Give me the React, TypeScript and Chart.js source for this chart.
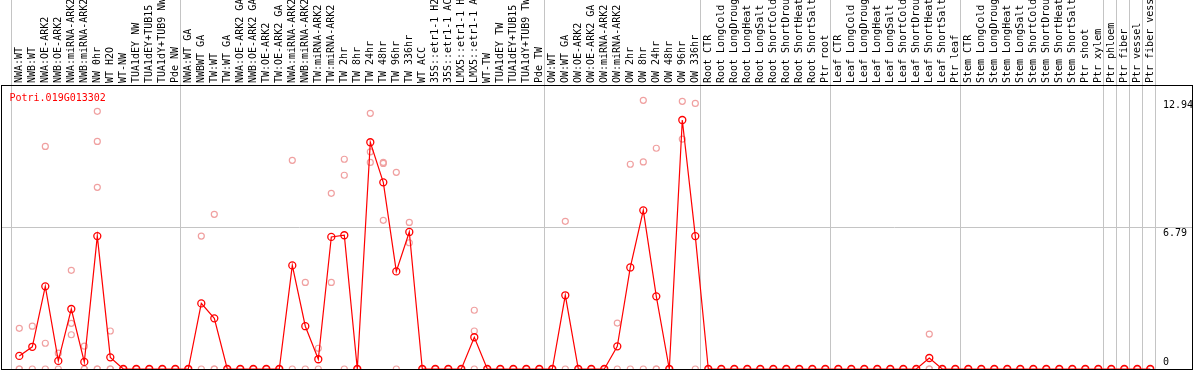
import { useEffect, useRef } from 'react';
import { Chart, registerables } from 'chart.js';

Chart.register(...registerables);

const geneName = 'Potri.019G013302';

const categories = [
  'NWA:WT', 'NWB:WT', 'NWA:OE-ARK2', 'NWB:OE-ARK2', 'NWA:miRNA-ARK2', 'NWB:miRNA-ARK2', 'NW 0hr', 'WT H2O', 'WT-NW',
  'TUA1dEY NW', 'TUA1dEY+TUB15 NW', 'TUA1dY+TUB9 NW', 'Pde NW',
  'NWA:WT GA', 'NWBWT GA', 'TW:WT', 'TW:WT GA', 'NWA:OE-ARK2 GA', 'NWB:OE-ARK2 GA', 'TW:OE-ARK2', 'TW:OE-ARK2 GA',
  'NWA:miRNA-ARK2 GA', 'NWB:miRNA-ARK2 GA', 'TW:miRNA-ARK2', 'TW:miRNA-ARK2 GA',
  'TW 2hr', 'TW 8hr', 'TW 24hr', 'TW 48hr', 'TW 96hr', 'TW 336hr', 'WT ACC',
  '35S::etr1-1 H2O', '35S::etr1-1 ACC', 'LMX5::etr1-1 H2O', 'LMX5::etr1-1 ACC', 'WT-TW',
  'TUA1dEY TW', 'TUA1dEY+TUB15 TW', 'TUA1dY+TUB9 TW', 'Pde TW',
  'OW:WT', 'OW:WT GA', 'OW:OE-ARK2', 'OW:OE-ARK2 GA', 'OW:miRNA-ARK2', 'OW:miRNA-ARK2 GA',
  'OW 2hr', 'OW 8hr', 'OW 24hr', 'OW 48hr', 'OW 96hr', 'OW 336hr',
  'Root CTR', 'Root LongCold', 'Root LongDrought', 'Root LongHeat', 'Root LongSalt',
  'Root ShortCold', 'Root ShortDrought', 'Root ShortHeat', 'Root ShortSalt', 'Ptr root',
  'Leaf CTR', 'Leaf LongCold', 'Leaf LongDrought', 'Leaf LongHeat', 'Leaf LongSalt',
  'Leaf ShortCold', 'Leaf ShortDrought', 'Leaf ShortHeat', 'Leaf ShortSalt', 'Ptr leaf',
  'Stem CTR', 'Stem LongCold', 'Stem LongDrought', 'Stem LongHeat', 'Stem LongSalt',
  'Stem ShortCold', 'Stem ShortDrought', 'Stem ShortHeat', 'Stem ShortSalt', 'Ptr shoot', 'Ptr xylem',
  'Ptr phloem', 'Ptr fiber', 'Ptr vessel', 'Ptr fiber vessel',
];

const meanValues = [
  0.63, 1.07, 3.98, 0.39, 2.89, 0.34, 6.40, 0.56, 0, 0, 0, 0, 0,
  0, 3.16, 2.44, 0, 0, 0, 0, 0, 4.99, 2.06, 0.47, 6.36, 6.44, 0, 10.92, 8.99, 4.70, 6.60,
  0, 0, 0, 0, 1.53, 0, 0, 0, 0, 0,
  0, 3.55, 0, 0, 0, 1.09, 4.89, 7.64, 3.50, 0, 11.99, 6.40,
  0, 0, 0, 0, 0, 0, 0, 0, 0, 0,
  0, 0, 0, 0, 0, 0, 0, 0.53, 0, 0,
  0, 0, 0, 0, 0, 0, 0, 0, 0, 0, 0,
  0, 0, 0, 0,
];

const replicateValues: number[][] = [
  [1.96, 0, 0], [2.06, 0], [10.72, 1.24, 0], [0.76, 0], [4.75, 2.20, 1.65], [1.10, 0, 0],
  [12.41, 10.96, 8.75, 0, 0], [1.83, 0, 0], [0, 0], [0, 0], [0, 0], [0, 0], [0, 0],
  [0, 0], [6.40, 0], [7.45, 0, 0], [0, 0], [0, 0], [0, 0], [0, 0], [0, 0],
  [10.05, 0], [4.17, 0], [1.00, 0], [8.46, 4.17], [10.10, 9.33, 0], [0, 0],
  [12.31, 10.46, 9.95], [9.95, 9.90, 7.16], [9.47, 0], [7.06, 6.08],
  [0, 0], [0, 0], [0, 0], [0, 0], [2.83, 1.83, 0], [0, 0], [0, 0], [0, 0], [0, 0], [0, 0],
  [0, 0], [7.11, 0], [0, 0], [0, 0], [0, 0], [2.21, 0], [9.86, 0], [12.94, 9.97, 0],
  [10.63, 0, 0], [0, 0], [12.89, 11.07], [12.79, 0],
  [0, 0], [0, 0], [0, 0], [0, 0], [0, 0], [0, 0], [0, 0], [0, 0], [0, 0], [0, 0],
  [0, 0], [0, 0], [0, 0], [0, 0], [0, 0], [0, 0], [0, 0], [1.68, 0, 0], [0, 0], [0, 0],
  [0, 0], [0, 0], [0, 0], [0, 0], [0, 0], [0, 0], [0, 0], [0, 0], [0, 0], [0, 0], [0, 0],
  [0, 0], [0, 0], [0, 0], [0, 0],
];

const yTickValues = [0, 6.79, 12.94];
const yTickLabels = ['0', '6.79', '12.94'];
const yGridShown = [false, true, false];

// index where each sample group starts (last entry = end)
const groupStarts = [0, 13, 41, 53, 63, 73, 84, 85, 86, 87, 88];

const FONT = 'DejaVu Sans Mono';
const RED = '#ff0000';
const PINK = '#f0a0a0';
const GRID = '#c4c4c4';
const CLEAR = 'rgba(0,0,0,0)';
const X_MIN = -1.408;
const X_MAX = 90.208;
const Y_MAX = 13.676;
const SEP_OFFSET = -8 / 13;

const noPad = (scale: any) => {
  scale.paddingLeft = 0;
  scale.paddingRight = 0;
  scale.paddingTop = 0;
  scale.paddingBottom = 0;
};

const titlePlugin = {
  id: 'geneTitle',
  afterDraw(chart: any) {
    const { ctx, chartArea } = chart;
    ctx.save();
    ctx.font = `10px "${FONT}"`;
    ctx.fillStyle = RED;
    ctx.textBaseline = 'alphabetic';
    ctx.textAlign = 'left';
    ctx.fillText(geneName, chartArea.left + 8.5, chartArea.top + 15.5);
    ctx.restore();
  },
};

export default function App() {
  const ref = useRef<HTMLCanvasElement | null>(null);

  useEffect(() => {
    if (!ref.current) return;
    const meanData = meanValues.map((v, i) => ({ x: i, y: v }));
    const repData = replicateValues.flatMap((reps, i) => reps.map((v) => ({ x: i, y: v })));
    const xTicks = [
      ...categories.map((_, i) => ({ value: i })),
      ...groupStarts.map((g) => ({ value: g + SEP_OFFSET })),
    ].sort((a, b) => a.value - b.value);

    const chart = new Chart(ref.current, {
      type: 'line',
      data: {
        datasets: [
          {
            label: 'mean',
            data: meanData,
            borderColor: RED,
            borderWidth: 1.2,
            pointRadius: 3.5,
            pointBorderWidth: 1.3,
            pointBorderColor: RED,
            pointBackgroundColor: CLEAR,
            backgroundColor: CLEAR,
            tension: 0,
            xAxisID: 'x',
            yAxisID: 'y',
          },
          {
            label: 'replicates',
            data: repData,
            showLine: false,
            borderColor: PINK,
            pointRadius: 3,
            pointBorderWidth: 1.2,
            pointBorderColor: PINK,
            pointBackgroundColor: CLEAR,
            backgroundColor: CLEAR,
            xAxisID: 'x',
            yAxisID: 'y',
          },
        ],
      },
      options: {
        responsive: false,
        animation: false,
        devicePixelRatio: 1,
        layout: { padding: 0, autoPadding: false },
        plugins: { legend: { display: false }, tooltip: { enabled: false }, title: { display: false } },
        scales: {
          x: {
            type: 'linear',
            position: 'top',
            min: X_MIN,
            max: X_MAX,
            afterBuildTicks: (scale: any) => { scale.ticks = xTicks.map((t) => ({ ...t })); },
            afterFit: (scale: any) => { scale.height = 85; noPad(scale); },
            ticks: {
              autoSkip: false,
              minRotation: 90,
              maxRotation: 90,
              padding: -83,
              labelOffset: 12,
              color: '#000',
              font: { family: FONT, size: 10 },
              callback: (value: any) => (Number.isInteger(value) ? categories[value] : ''),
            },
            grid: {
              color: (ctx: any) => (ctx.tick && !Number.isInteger(ctx.tick.value) ? GRID : CLEAR),
              tickLength: 85,
              drawTicks: true,
              lineWidth: 1,
            },
            border: { display: true, color: '#000', width: 1 },
          },
          x2: {
            type: 'linear',
            position: 'bottom',
            min: X_MIN,
            max: X_MAX,
            afterFit: (scale: any) => { scale.height = 1; noPad(scale); },
            ticks: { display: false },
            grid: { color: CLEAR, drawOnChartArea: false, drawTicks: false },
            border: { display: true, color: '#000', width: 1 },
          },
          y: {
            type: 'linear',
            position: 'left',
            min: 0,
            max: Y_MAX,
            afterBuildTicks: (scale: any) => { scale.ticks = yTickValues.map((v) => ({ value: v })); },
            afterFit: (scale: any) => { scale.width = 1; noPad(scale); },
            ticks: {
              mirror: true,
              padding: 1162,
              align: 'start',
              crossAlign: 'near',
              color: '#000',
              font: { family: FONT, size: 10 },
              callback: (_v: any, index: number) => (index === 0 ? [yTickLabels[0], '', ''] : yTickLabels[index]),
            },
            grid: {
              color: (ctx: any) => (yGridShown[ctx.index] ? GRID : CLEAR),
              drawTicks: false,
              lineWidth: 1,
            },
            border: { display: true, color: '#000', width: 1 },
          },
          yR: {
            type: 'linear',
            position: 'right',
            min: 0,
            max: 1,
            afterFit: (scale: any) => { scale.width = 2; noPad(scale); },
            ticks: { display: false },
            grid: { color: CLEAR, drawOnChartArea: false, drawTicks: false },
            border: { display: true, color: '#000', width: 1 },
          },
        },
      } as any,
      plugins: [titlePlugin],
    });
    return () => chart.destroy();
  }, []);

  return (
    <div style={{ position: 'absolute', left: 0, top: 0, width: 1194, height: 370, background: '#fff' }}>
      <canvas ref={ref} width={1194} height={370} style={{ display: 'block', width: 1194, height: 370 }} />
    </div>
  );
}
